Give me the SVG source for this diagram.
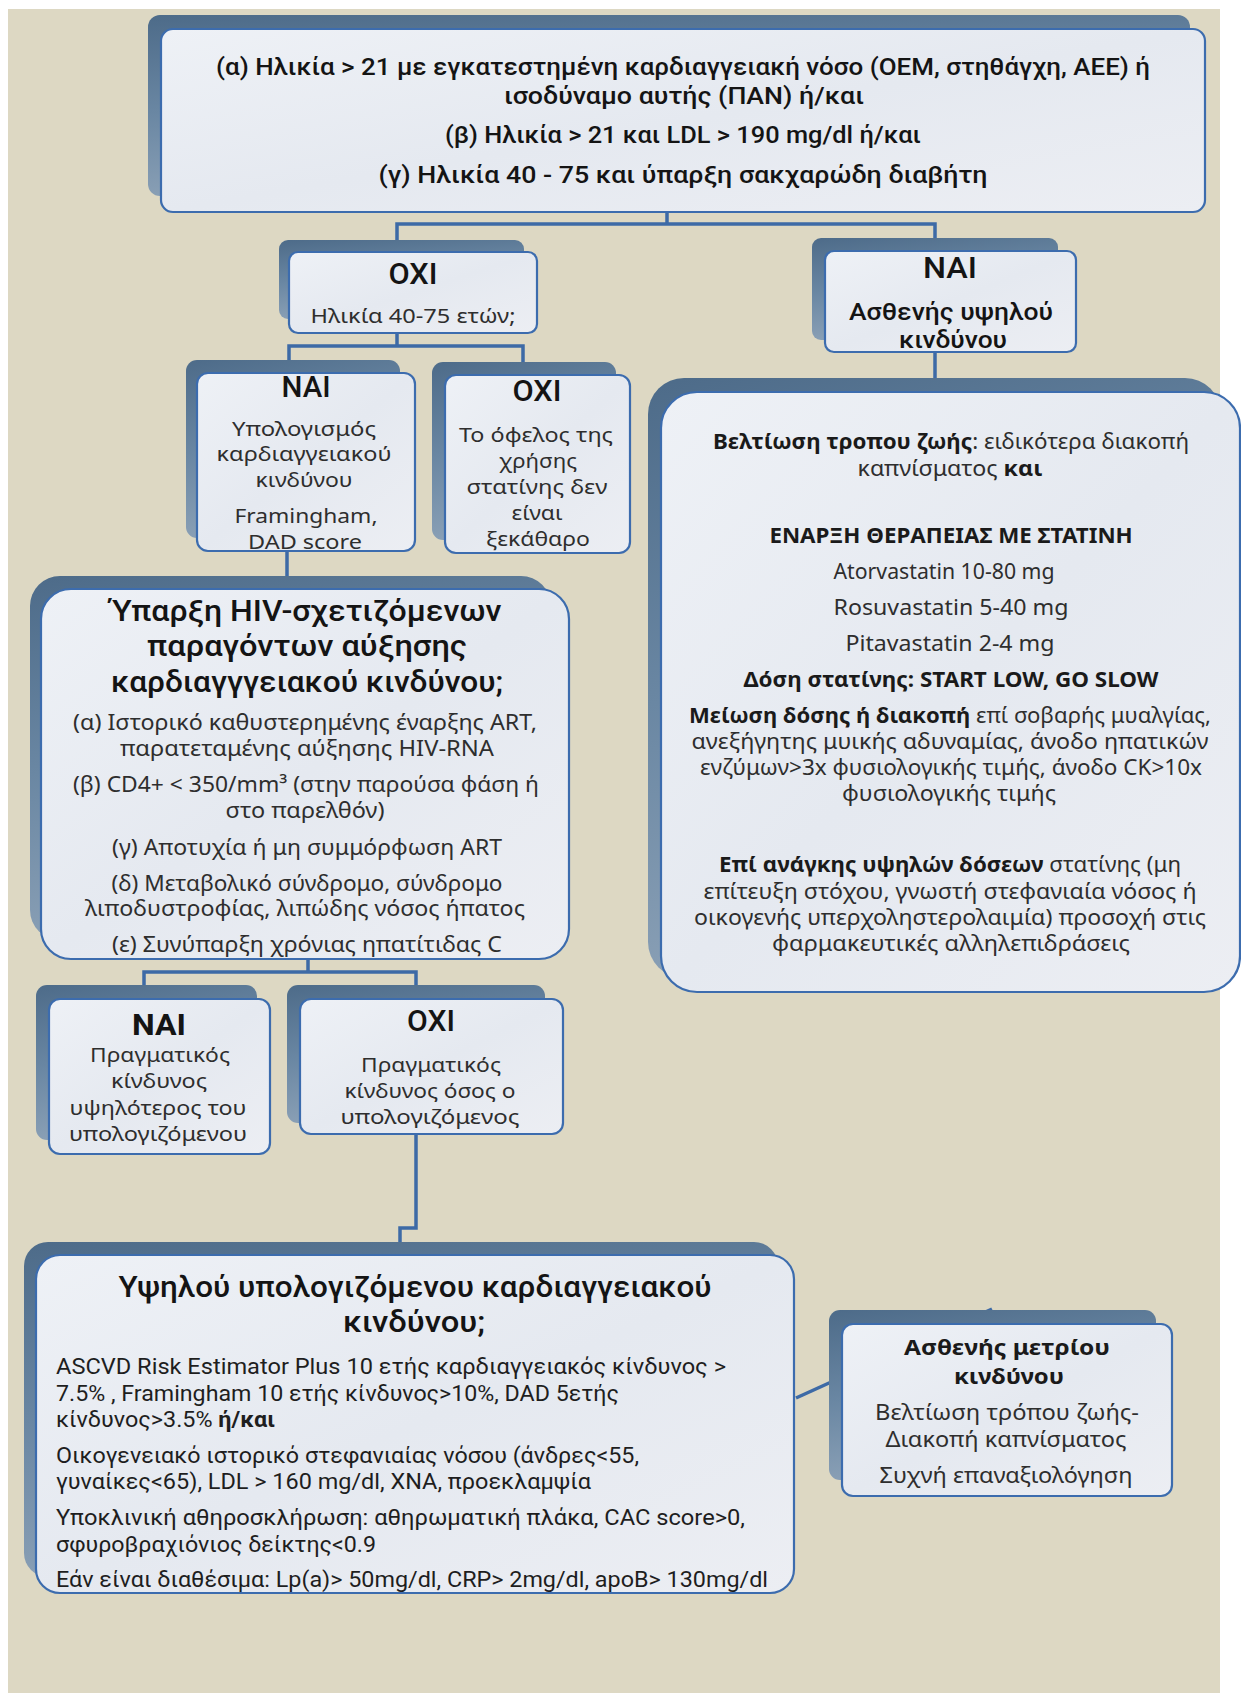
<svg xmlns="http://www.w3.org/2000/svg" width="1241" height="1693" viewBox="0 0 1241 1693">
<defs>
<linearGradient id="sh" x1="0" y1="0" x2="0.3" y2="1">
<stop offset="0" stop-color="#4d6b89"/>
<stop offset="0.5" stop-color="#6a87a3"/>
<stop offset="1" stop-color="#8ea3b8"/>
</linearGradient>
<linearGradient id="fr" x1="0" y1="0" x2="1" y2="1">
<stop offset="0" stop-color="#eef1f6"/>
<stop offset="0.5" stop-color="#e5e9f0"/>
<stop offset="1" stop-color="#eceef3"/>
</linearGradient>
<style>
.sh{fill:url(#sh);}
.fr{fill:url(#fr);stroke:#3c6cae;stroke-width:2.2;}
.con{fill:none;stroke:#3d6aa6;stroke-width:3.5;stroke-linejoin:miter;}
text{text-anchor:middle;}
.h{font-family:Roboto,"Liberation Sans",sans-serif;font-weight:500;fill:#141414;}
.hb{font-family:Roboto,"Liberation Sans",sans-serif;font-weight:700;fill:#141414;}
.c{font-family:Roboto,"Liberation Sans",sans-serif;font-weight:400;fill:#1e1e1e;}
.cb{font-weight:700;}
.b{font-family:"Noto Sans","Open Sans","Liberation Sans",sans-serif;font-weight:400;fill:#2e2e2e;}
.bb{font-family:"Noto Sans","Open Sans","Liberation Sans",sans-serif;font-weight:700;fill:#1a1a1a;}
.l{text-anchor:start;}
</style>
</defs>
<rect x="0" y="0" width="1241" height="1693" fill="#ffffff"/>
<rect x="8" y="9" width="1212" height="1684" fill="#ddd8c3"/>

<g id="connectors">
<path class="con" d="M667 212 V224 M397 252 V224 H935 V251"/>
<path class="con" d="M397 333 V346 M289 373 V346 H523 V375"/>
<path class="con" d="M935 352 V392"/>
<path class="con" d="M287 551 V589"/>
<path class="con" d="M308 959 V972 M144 999 V972 H416 V999"/>
<path class="con" d="M416 1134 V1228 H400 V1255"/>
<path class="con" d="M796 1398 L992 1309"/>
</g>

<g id="node-criteria">
<rect class="sh" x="148" y="15" width="1042" height="181" rx="12"/>
<rect class="fr" x="161" y="29" width="1044" height="183" rx="12"/>
<text class="h" x="683" y="75" font-size="24" textLength="934" lengthAdjust="spacingAndGlyphs">(α) Ηλικία &gt; 21 με εγκατεστημένη καρδιαγγειακή νόσο (ΟΕΜ, στηθάγχη, ΑΕΕ) ή</text>
<text class="h" x="684" y="104" font-size="24" textLength="360" lengthAdjust="spacingAndGlyphs">ισοδύναμο αυτής (ΠΑΝ) ή/και</text>
<text class="h" x="683" y="143" font-size="24" textLength="476" lengthAdjust="spacingAndGlyphs">(β) Ηλικία &gt; 21 και LDL &gt; 190 mg/dl ή/και</text>
<text class="h" x="683" y="183" font-size="24" textLength="609" lengthAdjust="spacingAndGlyphs">(γ)  Ηλικία 40 - 75 και ύπαρξη σακχαρώδη διαβήτη</text>
</g>

<g id="node-no-age">
<rect class="sh" x="279" y="240" width="245" height="79" rx="9"/>
<rect class="fr" x="289" y="252" width="248" height="81" rx="9"/>
<text class="h" x="413" y="284" font-size="30" textLength="49" lengthAdjust="spacingAndGlyphs">ΟΧΙ</text>
<text class="b" x="413" y="323" font-size="20" textLength="205" lengthAdjust="spacingAndGlyphs">Ηλικία 40-75 ετών;</text>
</g>

<g id="node-yes-high">
<rect class="sh" x="812" y="238" width="246" height="102" rx="9"/>
<rect class="fr" x="825" y="251" width="251" height="101" rx="9"/>
<text class="h" x="950" y="278" font-size="30" textLength="54" lengthAdjust="spacingAndGlyphs">ΝΑΙ</text>
<text class="h" x="951" y="320" font-size="23" textLength="204" lengthAdjust="spacingAndGlyphs">Ασθενής υψηλού</text>
<text class="h" x="953" y="348" font-size="23" textLength="108" lengthAdjust="spacingAndGlyphs">κινδύνου</text>
</g>

<g id="node-yes-calc">
<rect class="sh" x="186" y="360" width="214" height="178" rx="11"/>
<rect class="fr" x="197" y="373" width="218" height="178" rx="11"/>
<text class="h" x="306" y="397" font-size="30" textLength="49" lengthAdjust="spacingAndGlyphs">ΝΑΙ</text>
<text class="b" x="304" y="436" font-size="20" textLength="144" lengthAdjust="spacingAndGlyphs">Υπολογισμός</text>
<text class="b" x="304" y="461" font-size="20" textLength="175" lengthAdjust="spacingAndGlyphs">καρδιαγγειακού</text>
<text class="b" x="304" y="487" font-size="20" textLength="97" lengthAdjust="spacingAndGlyphs">κινδύνου</text>
<text class="b" x="306" y="523" font-size="20" textLength="143" lengthAdjust="spacingAndGlyphs">Framingham,</text>
<text class="b" x="305" y="549" font-size="20" textLength="114" lengthAdjust="spacingAndGlyphs">DAD score</text>
</g>

<g id="node-no-benefit">
<rect class="sh" x="432" y="362" width="184" height="178" rx="11"/>
<rect class="fr" x="445" y="375" width="185" height="178" rx="11"/>
<text class="h" x="537" y="401" font-size="30" textLength="49" lengthAdjust="spacingAndGlyphs">ΟΧΙ</text>
<text class="b" x="536" y="442" font-size="20" textLength="154" lengthAdjust="spacingAndGlyphs">Το όφελος της</text>
<text class="b" x="538" y="468" font-size="20" textLength="78" lengthAdjust="spacingAndGlyphs">χρήσης</text>
<text class="b" x="537" y="494" font-size="20" textLength="141" lengthAdjust="spacingAndGlyphs">στατίνης δεν</text>
<text class="b" x="537" y="520" font-size="20" textLength="51" lengthAdjust="spacingAndGlyphs">είναι</text>
<text class="b" x="538" y="546" font-size="20" textLength="104" lengthAdjust="spacingAndGlyphs">ξεκάθαρο</text>
</g>

<g id="node-treatment">
<rect class="sh" x="648" y="378" width="573" height="600" rx="36"/>
<rect class="fr" x="661" y="392" width="579" height="600" rx="36"/>
<text class="b" x="951" y="449" font-size="21" textLength="476" lengthAdjust="spacingAndGlyphs"><tspan class="bb">Βελτίωση τροπου ζωής</tspan>: ειδικότερα διακοπή</text>
<text class="b" x="950" y="476" font-size="21" textLength="185" lengthAdjust="spacingAndGlyphs">καπνίσματος <tspan class="bb">και</tspan></text>
<text class="bb" x="951" y="543" font-size="21" textLength="363" lengthAdjust="spacingAndGlyphs">ΕΝΑΡΞΗ ΘΕΡΑΠΕΙΑΣ ΜΕ ΣΤΑΤΙΝΗ</text>
<text class="b" x="944" y="579" font-size="21" textLength="221" lengthAdjust="spacingAndGlyphs">Atorvastatin 10-80 mg</text>
<text class="b" x="951" y="615" font-size="21" textLength="235" lengthAdjust="spacingAndGlyphs">Rosuvastatin 5-40 mg</text>
<text class="b" x="950" y="651" font-size="21" textLength="209" lengthAdjust="spacingAndGlyphs">Pitavastatin 2-4 mg</text>
<text class="bb" x="951" y="687" font-size="21" textLength="415" lengthAdjust="spacingAndGlyphs">Δόση στατίνης: START LOW, GO SLOW</text>
<text class="b" x="950" y="723" font-size="21" textLength="522" lengthAdjust="spacingAndGlyphs"><tspan class="bb">Μείωση δόσης ή διακοπή</tspan> επί σοβαρής μυαλγίας,</text>
<text class="b" x="950" y="749" font-size="21" textLength="517" lengthAdjust="spacingAndGlyphs">ανεξήγητης μυικής αδυναμίας, άνοδο ηπατικών</text>
<text class="b" x="951" y="775" font-size="21" textLength="502" lengthAdjust="spacingAndGlyphs">ενζύμων&gt;3x φυσιολογικής τιμής, άνοδο CK&gt;10x</text>
<text class="b" x="949" y="801" font-size="21" textLength="214" lengthAdjust="spacingAndGlyphs">φυσιολογικής τιμής</text>
<text class="b" x="950" y="872" font-size="21" textLength="462" lengthAdjust="spacingAndGlyphs"><tspan class="bb">Επί ανάγκης υψηλών δόσεων</tspan> στατίνης (μη</text>
<text class="b" x="950" y="899" font-size="21" textLength="493" lengthAdjust="spacingAndGlyphs">επίτευξη στόχου, γνωστή στεφανιαία νόσος ή</text>
<text class="b" x="950" y="925" font-size="21" textLength="512" lengthAdjust="spacingAndGlyphs">οικογενής υπερχοληστερολαιμία) προσοχή στις</text>
<text class="b" x="951" y="951" font-size="21" textLength="358" lengthAdjust="spacingAndGlyphs">φαρμακευτικές αλληλεπιδράσεις</text>
</g>

<g id="node-hiv">
<rect class="sh" x="30" y="576" width="521" height="364" rx="30"/>
<rect class="fr" x="41" y="589" width="528" height="370" rx="30"/>
<text class="h" x="306" y="621" font-size="30" textLength="391" lengthAdjust="spacingAndGlyphs">Ύπαρξη HIV-σχετιζόμενων</text>
<text class="h" x="307" y="656" font-size="30" textLength="320" lengthAdjust="spacingAndGlyphs">παραγόντων αύξησης</text>
<text class="h" x="307" y="692" font-size="30" textLength="392" lengthAdjust="spacingAndGlyphs">καρδιαγγγειακού κινδύνου;</text>
<text class="b" x="305" y="730" font-size="21" textLength="464" lengthAdjust="spacingAndGlyphs">(α) Ιστορικό καθυστερημένης έναρξης ART,</text>
<text class="b" x="307" y="756" font-size="21" textLength="374" lengthAdjust="spacingAndGlyphs">παρατεταμένης αύξησης HIV-RNA</text>
<text class="b" x="306" y="792" font-size="21" textLength="466" lengthAdjust="spacingAndGlyphs">(β) CD4+ &lt; 350/mm³ (στην παρούσα φάση ή</text>
<text class="b" x="305" y="818" font-size="21" textLength="159" lengthAdjust="spacingAndGlyphs">στο παρελθόν)</text>
<text class="b" x="307" y="855" font-size="21" textLength="390" lengthAdjust="spacingAndGlyphs">(γ) Αποτυχία ή μη συμμόρφωση ART</text>
<text class="b" x="307" y="891" font-size="21" textLength="391" lengthAdjust="spacingAndGlyphs">(δ) Μεταβολικό σύνδρομο, σύνδρομο</text>
<text class="b" x="305" y="916" font-size="21" textLength="440" lengthAdjust="spacingAndGlyphs">λιποδυστροφίας, λιπώδης νόσος ήπατος</text>
<text class="b" x="307" y="952" font-size="21" textLength="390" lengthAdjust="spacingAndGlyphs">(ε) Συνύπαρξη χρόνιας ηπατίτιδας C</text>
</g>

<g id="node-yes-real">
<rect class="sh" x="36" y="985" width="221" height="155" rx="11"/>
<rect class="fr" x="49" y="999" width="221" height="155" rx="11"/>
<text class="hb" x="159" y="1035" font-size="30" textLength="54" lengthAdjust="spacingAndGlyphs">ΝΑΙ</text>
<text class="b" x="160" y="1062" font-size="20" textLength="140" lengthAdjust="spacingAndGlyphs">Πραγματικός</text>
<text class="b" x="159" y="1088" font-size="20" textLength="96" lengthAdjust="spacingAndGlyphs">κίνδυνος</text>
<text class="b" x="158" y="1115" font-size="20" textLength="177" lengthAdjust="spacingAndGlyphs">υψηλότερος του</text>
<text class="b" x="158" y="1141" font-size="20" textLength="178" lengthAdjust="spacingAndGlyphs">υπολογιζόμενου</text>
</g>

<g id="node-no-real">
<rect class="sh" x="287" y="985" width="258" height="138" rx="11"/>
<rect class="fr" x="300" y="999" width="263" height="135" rx="11"/>
<text class="h" x="431" y="1031" font-size="30" textLength="48" lengthAdjust="spacingAndGlyphs">ΟΧΙ</text>
<text class="b" x="431" y="1072" font-size="20" textLength="140" lengthAdjust="spacingAndGlyphs">Πραγματικός</text>
<text class="b" x="430" y="1098" font-size="20" textLength="171" lengthAdjust="spacingAndGlyphs">κίνδυνος όσος ο</text>
<text class="b" x="430" y="1124" font-size="20" textLength="179" lengthAdjust="spacingAndGlyphs">υπολογιζόμενος</text>
</g>

<g id="node-high-estimated">
<rect class="sh" x="24" y="1242" width="754" height="335" rx="24"/>
<rect class="fr" x="36" y="1255" width="758" height="338" rx="24"/>
<text class="h" x="415" y="1297" font-size="30" textLength="593" lengthAdjust="spacingAndGlyphs">Υψηλού υπολογιζόμενου καρδιαγγειακού</text>
<text class="h" x="414" y="1332" font-size="30" textLength="142" lengthAdjust="spacingAndGlyphs">κινδύνου;</text>
<text class="c l" x="56" y="1374" font-size="22" textLength="670" lengthAdjust="spacingAndGlyphs">ASCVD Risk Estimator Plus 10 ετής καρδιαγγειακός κίνδυνος &gt;</text>
<text class="c l" x="56" y="1401" font-size="22" textLength="563" lengthAdjust="spacingAndGlyphs">7.5% , Framingham 10 ετής κίνδυνος&gt;10%, DAD 5ετής</text>
<text class="c l" x="56" y="1427" font-size="22" textLength="219" lengthAdjust="spacingAndGlyphs">κίνδυνος&gt;3.5% <tspan class="cb">ή/και</tspan></text>
<text class="c l" x="56" y="1463" font-size="22" textLength="583" lengthAdjust="spacingAndGlyphs">Οικογενειακό ιστορικό στεφανιαίας νόσου (άνδρες&lt;55,</text>
<text class="c l" x="56" y="1489" font-size="22" textLength="535" lengthAdjust="spacingAndGlyphs">γυναίκες&lt;65), LDL &gt; 160 mg/dl, ΧΝΑ, προεκλαμψία</text>
<text class="c l" x="56" y="1525" font-size="22" textLength="689" lengthAdjust="spacingAndGlyphs">Υποκλινική αθηροσκλήρωση: αθηρωματική πλάκα, CAC score&gt;0,</text>
<text class="c l" x="56" y="1552" font-size="22" textLength="320" lengthAdjust="spacingAndGlyphs">σφυροβραχιόνιος δείκτης&lt;0.9</text>
<text class="c l" x="56" y="1587" font-size="22" textLength="712" lengthAdjust="spacingAndGlyphs">Εάν είναι διαθέσιμα: Lp(a)&gt; 50mg/dl, CRP&gt; 2mg/dl, apoB&gt; 130mg/dl</text>
</g>

<g id="node-moderate">
<rect class="sh" x="829" y="1310" width="327" height="170" rx="11"/>
<rect class="fr" x="842" y="1324" width="330" height="172" rx="11"/>
<text class="bb" x="1007" y="1355" font-size="22" textLength="206" lengthAdjust="spacingAndGlyphs">Ασθενής μετρίου</text>
<text class="bb" x="1009" y="1384" font-size="22" textLength="110" lengthAdjust="spacingAndGlyphs">κινδύνου</text>
<text class="b" x="1007" y="1420" font-size="21" textLength="264" lengthAdjust="spacingAndGlyphs">Βελτίωση τρόπου ζωής-</text>
<text class="b" x="1006" y="1447" font-size="21" textLength="241" lengthAdjust="spacingAndGlyphs">Διακοπή καπνίσματος</text>
<text class="b" x="1006" y="1483" font-size="21" textLength="253" lengthAdjust="spacingAndGlyphs">Συχνή επαναξιολόγηση</text>
</g>
</svg>
